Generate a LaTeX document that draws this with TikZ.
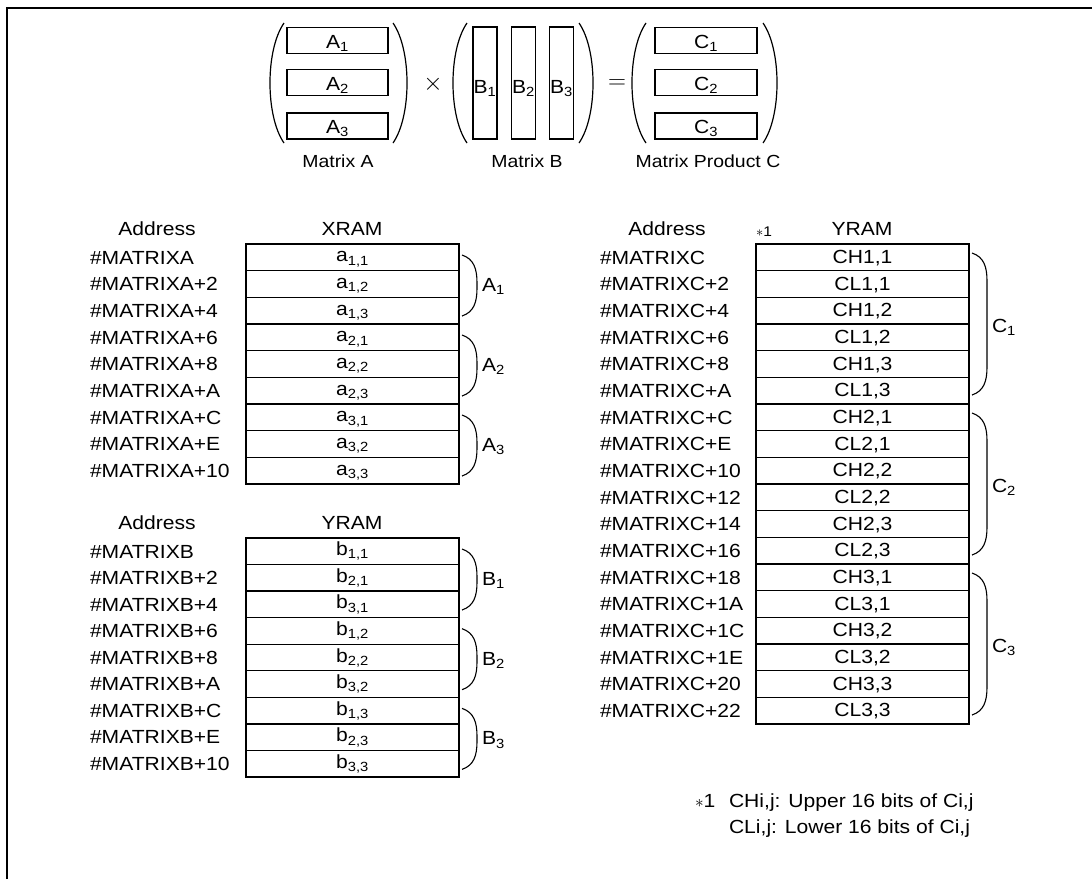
\documentclass[tikz,border=0pt]{standalone}
\usepackage{fontspec}
\setmainfont{Liberation Sans}[FakeStretch=1.11]
\newcommand\mbrace[3]{%
  \draw[brc] (#1,#2) .. controls ({#1+12},{#2+4}) and ({#1+15},{#2+14}) .. ({#1+15},{#2+28})
    -- ({#1+15},{#3-28}) .. controls ({#1+15},{#3-14}) and ({#1+12},{#3-4}) .. (#1,#3);}
\newcommand\lparen[3]{\draw[parn] (#1,#2) .. controls ({#1-18.7},{#2+27}) and ({#1-18.7},{#3-27}) .. (#1,#3);}
\newcommand\rparen[3]{\draw[parn] (#1,#2) .. controls ({#1+18.7},{#2+27}) and ({#1+18.7},{#3-27}) .. (#1,#3);}
\begin{document}
\begin{tikzpicture}[x=1pt,y=-1pt,
  every node/.style={font=\fontsize{19}{23}\selectfont, inner sep=0pt, outer sep=0pt},
  cellbox/.style={draw, line width=1.3pt, minimum width=213pt, minimum height=26.67pt, text height=13pt, text depth=4pt},
  ccell/.style={cellbox, text height=14pt, text depth=2pt},
  addr/.style={anchor=base west},
  hdr/.style={anchor=base},
  brc/.style={line width=1.1pt},
  parn/.style={line width=1.2pt},
  hbox/.style={draw, line width=1.3pt, minimum width=101pt, minimum height=26pt, text height=15pt, text depth=0pt},
  vbox/.style={draw, line width=1.3pt, minimum width=24pt, minimum height=112pt, text height=20pt, text depth=0pt},
  small/.style={font=\fontsize{17.5}{21}\selectfont}
]
\useasboundingbox (0,0) rectangle (1092,879);
\draw[line width=2pt] (7,879) -- (7,8) -- (1092,8);

% ---------- top: matrix product ----------
\node[hbox] (mA1) at (337.5,40.5) {A\textsubscript{1}};
\node[hbox] (mA2) at (337.5,82.5) {A\textsubscript{2}};
\node[hbox] (mA3) at (337.5,126) {A\textsubscript{3}};
\lparen{284}{23}{143}
\rparen{393}{23}{143}
\node[font=\fontsize{29}{32}\selectfont] (times) at (433,84) {$\times$};
\node[vbox] (mB1) at (485,83) {B\textsubscript{1}};
\node[vbox] (mB2) at (523.5,83) {B\textsubscript{2}};
\node[vbox] (mB3) at (561.5,83) {B\textsubscript{3}};
\lparen{467}{23}{143}
\rparen{579}{23}{143}
\node[font=\fontsize{24}{28}\selectfont] (equals) at (617,84) {$=$};
\node[hbox, minimum width=102pt] (mC1) at (706,40.5) {C\textsubscript{1}};
\node[hbox, minimum width=102pt] (mC2) at (706,82.5) {C\textsubscript{2}};
\node[hbox, minimum width=102pt] (mC3) at (706,126) {C\textsubscript{3}};
\lparen{646}{23}{143}
\rparen{763}{23}{143}
\node[small, anchor=base] (lA) at (338,167) {Matrix A};
\node[small, anchor=base] (lB) at (527,167) {Matrix B};
\node[small, anchor=base] (lC) at (708,167) {Matrix Product C};

% ---------- XRAM: matrix A ----------
\node[hdr] (hA1) at (157,235) {Address};
\node[hdr] (hA2) at (352,235) {XRAM};
\foreach \r/\c [count=\k from 0] in {1/1,1/2,1/3,2/1,2/2,2/3,3/1,3/2,3/3}
  \node[cellbox] (xa\k) at (352.5,{257.335+\k*26.67}) {a\textsubscript{\r,\c}};
\foreach \s [count=\k from 0] in {\#MATRIXA,\#MATRIXA+2,\#MATRIXA+4,\#MATRIXA+6,\#MATRIXA+8,\#MATRIXA+A,\#MATRIXA+C,\#MATRIXA+E,\#MATRIXA+10}
  \node[addr] (aa\k) at (90,{264+\k*26.67}) {\s};
\foreach \g in {0,1,2}{
  \mbrace{462}{244+\g*80+11}{244+\g*80+72}
  \pgfmathtruncatemacro\gg{\g+1}
  \node[anchor=base west] (bA\g) at (482,{244+\g*80+41.5+6}) {A\textsubscript{\gg}};
}

% ---------- YRAM: matrix B ----------
\node[hdr] (hB1) at (157,529) {Address};
\node[hdr] (hB2) at (352,529) {YRAM};
\foreach \r/\c [count=\k from 0] in {1/1,2/1,3/1,1/2,2/2,3/2,1/3,2/3,3/3}
  \node[cellbox, minimum height=26.56pt] (yb\k) at (352.5,{538+13.28+\k*26.56}) {b\textsubscript{\r,\c}};
\foreach \s [count=\k from 0] in {\#MATRIXB,\#MATRIXB+2,\#MATRIXB+4,\#MATRIXB+6,\#MATRIXB+8,\#MATRIXB+A,\#MATRIXB+C,\#MATRIXB+E,\#MATRIXB+10}
  \node[addr] (ab\k) at (90,{558+\k*26.56}) {\s};
\foreach \g in {0,1,2}{
  \mbrace{462}{538+\g*79.68+11}{538+\g*79.68+72}
  \pgfmathtruncatemacro\gg{\g+1}
  \node[anchor=base west] (bB\g) at (482,{538+\g*79.68+41.5+6}) {B\textsubscript{\gg}};
}

% ---------- YRAM: matrix C ----------
\node[hdr] (hC1) at (667,235) {Address};
\node[anchor=base, font=\fontsize{14}{16}\selectfont] (star) at (764,236) {$\ast$1};
\node[hdr] (hC2) at (862,235) {YRAM};
\foreach \h/\i/\j [count=\k from 0] in {H/1/1,L/1/1,H/1/2,L/1/2,H/1/3,L/1/3,H/2/1,L/2/1,H/2/2,L/2/2,H/2/3,L/2/3,H/3/1,L/3/1,H/3/2,L/3/2,H/3/3,L/3/3}
  \node[ccell] (yc\k) at (862.5,{257.335+\k*26.67}) {C\h\i,\j};
\foreach \s [count=\k from 0] in {\#MATRIXC,\#MATRIXC+2,\#MATRIXC+4,\#MATRIXC+6,\#MATRIXC+8,\#MATRIXC+A,\#MATRIXC+C,\#MATRIXC+E,\#MATRIXC+10,\#MATRIXC+12,\#MATRIXC+14,\#MATRIXC+16,\#MATRIXC+18,\#MATRIXC+1A,\#MATRIXC+1C,\#MATRIXC+1E,\#MATRIXC+20,\#MATRIXC+22}
  \node[addr] (ac\k) at (600,{264+\k*26.67}) {\s};
\foreach \g in {0,1,2}{
  \mbrace{972}{244+\g*160+9}{244+\g*160+151}
  \pgfmathtruncatemacro\gg{\g+1}
  \node[anchor=base west] (bC\g) at (992,{244+\g*160+80+8}) {C\textsubscript{\gg}};
}

% ---------- footnote ----------
\node[anchor=base west] (fn0) at (695,807) {$\ast$1};
\node[anchor=base west] (fn1) at (729,807) {CHi,j: Upper 16 bits of Ci,j};
\node[anchor=base west] (fn2) at (729,833) {CLi,j: Lower 16 bits of Ci,j};
\end{tikzpicture}
\end{document}
